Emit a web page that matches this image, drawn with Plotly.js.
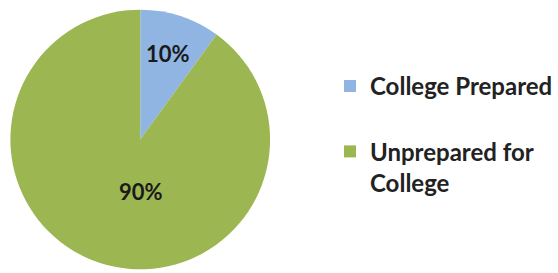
<!DOCTYPE html>
<html>
<head>
<meta charset="utf-8">
<script src="https://cdn.plot.ly/plotly-3.0.1.min.js"></script>
<style>html,body{margin:0;padding:0;background:#fff;}#chart{width:558px;height:273px;}</style>
</head>
<body>
<div id="chart"></div>
<script>
const categories = ["College Prepared", "Unprepared for College"];
const legendLabels = ["College Prepared<br> ", "Unprepared for<br>College"];
const values = [10, 90];
const colors = ["#90b5e2", "#9cb651"];

const total = values.reduce((a, b) => a + b, 0);
const pctText = values.map(v => Math.round(v / total * 100) + "%");
const labelPos = [{x: 0.303, y: 0.805}, {x: 0.2545, y: 0.30}];

const trace = {
  type: "pie",
  labels: legendLabels,
  values: values,
  sort: false,
  direction: "clockwise",
  rotation: 0,
  marker: {colors: colors, line: {width: 0}},
  textinfo: "none",
  domain: {x: [0.0188, 0.4884], y: [0.0092, 0.9689]},
  hoverinfo: "label+percent"
};

const annotations = pctText.map((t, i) => ({
  text: t, xref: "paper", yref: "paper",
  x: labelPos[i].x, y: labelPos[i].y,
  xanchor: "center", yanchor: "middle", showarrow: false,
  font: {family: "Lato, sans-serif", size: 22, color: "#1a1a1a", weight: "bold"}
}));

const layout = {
  width: 558, height: 273,
  margin: {l: 0, r: 0, t: 0, b: 0},
  paper_bgcolor: "#ffffff",
  showlegend: true,
  annotations: annotations,
  legend: {
    x: 0.597, y: 0.766, xanchor: "left", yanchor: "top",
    valign: "top",
    font: {family: "Lato, sans-serif", size: 24, color: "#222222", weight: "bold"},
    bgcolor: "rgba(0,0,0,0)"
  }
};

Plotly.newPlot("chart", [trace], layout, {displayModeBar: false, staticPlot: true});
</script>
</body>
</html>
